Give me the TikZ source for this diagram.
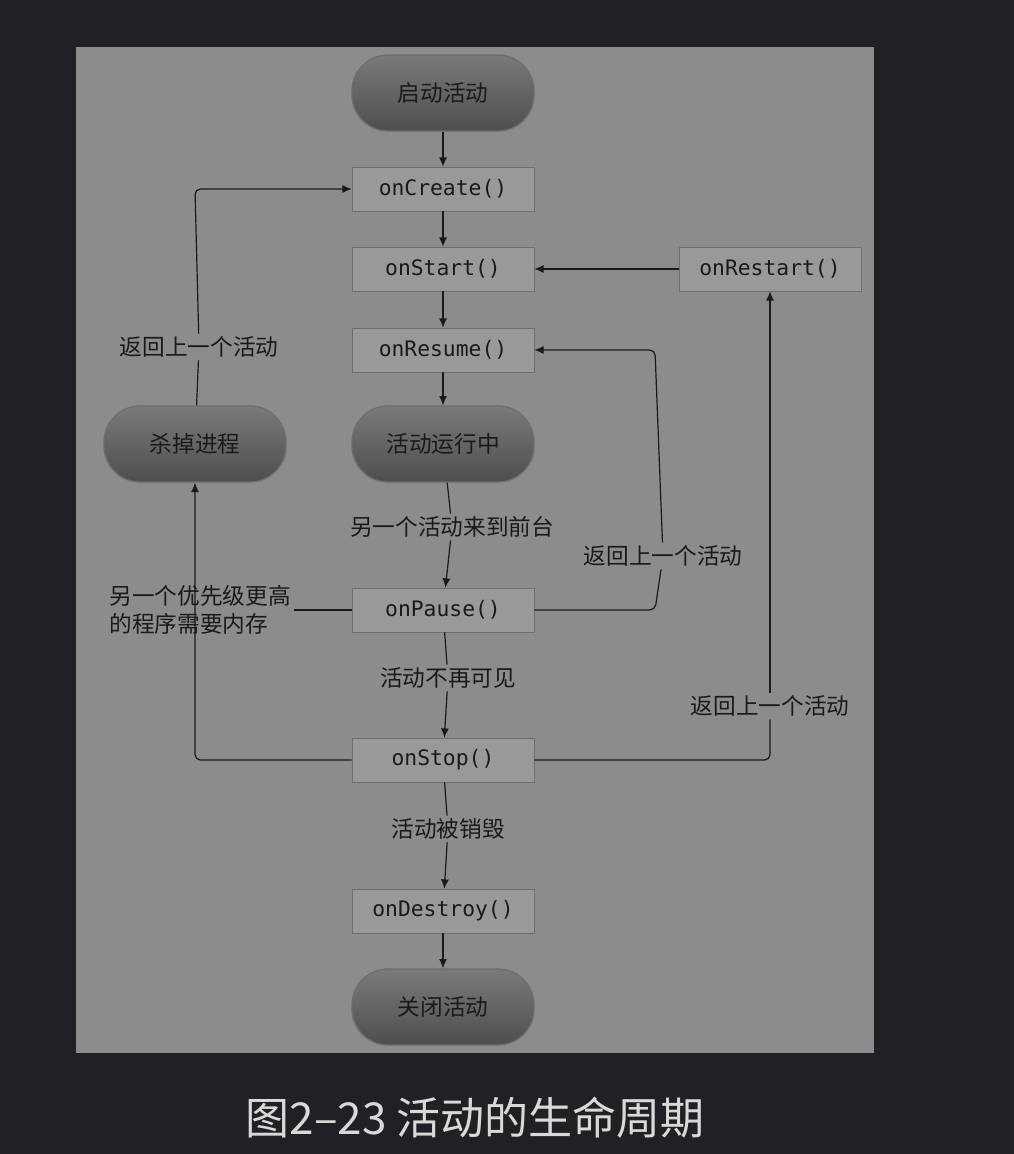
\documentclass[tikz,border=0pt]{standalone}
\usepackage{fontspec}
\setmainfont{Noto Sans CJK SC}
\newfontfamily\cjk{Noto Sans CJK SC}
\setmonofont{DejaVu Sans Mono}
\usetikzlibrary{arrows.meta}
\definecolor{bgdark}{HTML}{202124}
\definecolor{panel}{HTML}{8C8C8C}
\definecolor{boxfill}{HTML}{999999}
\definecolor{boxline}{HTML}{6E6E6E}
\definecolor{roundtop}{HTML}{7A7A7A}
\definecolor{roundbot}{HTML}{4E4E4E}
\definecolor{ink}{HTML}{1A1A1A}
\tikzset{
  px/.style={x=0.75pt,y=-0.75pt},
  meth/.style={draw=boxline,fill=boxfill,minimum width=136.5pt,minimum height=33pt,inner sep=0pt,font=\ttfamily\fontsize{16}{18}\selectfont,text=ink},
  state/.style={draw=boxline,line width=1pt,rounded corners=27pt,top color=roundtop,bottom color=roundbot,minimum width=136.5pt,minimum height=57pt,inner sep=0pt,font=\cjk\fontsize{17}{20}\selectfont,text=ink},
  lbl/.style={fill=panel,inner sep=2pt,font=\cjk\fontsize{17}{21}\selectfont,text=ink,align=center},
  conn/.style={draw=ink,line width=0.9pt},
  arr/.style={conn,-{Latex[length=7pt,width=6pt]}}
}
\begin{document}
\begin{tikzpicture}[px]
\fill[bgdark] (0,0) rectangle (1014,1154);
\useasboundingbox (0,0) rectangle (1014,1154);
\fill[panel] (76,47) rectangle (874,1053);
\node[state] (start) at (443,93) {启动活动};
\node[meth] (create) at (443,189) {onCreate()};
\node[meth] (startm) at (443,269) {onStart()};
\node[meth] (resume) at (443,350) {onResume()};
\node[state] (run) at (443,444) {活动运行中};
\node[meth] (pause) at (443,610) {onPause()};
\node[meth] (stop) at (443,760) {onStop()};
\node[meth] (destroy) at (443,911) {onDestroy()};
\node[state] (close) at (443,1007) {关闭活动};
\node[meth] (restart) at (770,269) {onRestart()};
\node[state] (kill) at (195,444) {杀掉进程};
\node[lbl] (l1) at (199,347) {返回上一个活动};
\node[lbl] (l2) at (452,527) {另一个活动来到前台};
\node[lbl] (l3) at (663,556) {返回上一个活动};
\node[lbl,align=left] (l4) at (200,610) {另一个优先级更高\\的程序需要内存};
\node[lbl] (l5) at (448,678) {活动不再可见};
\node[lbl] (l6) at (770,706) {返回上一个活动};
\node[lbl] (l7) at (448,829) {活动被销毁};
\coordinate (c1) at (655,610);
\coordinate (c2) at (655,350);
\coordinate (c3) at (770,760);
\coordinate (c4) at (195,760);
\coordinate (c5) at (195,189);
\draw[arr] (start) -- (create);
\draw[arr] (create) -- (startm);
\draw[arr] (startm) -- (resume);
\draw[arr] (resume) -- (run);
\draw[conn] (run) -- (l2);
\draw[arr] (l2) -- (pause);
\draw[conn] (pause) -- (l5);
\draw[arr] (l5) -- (stop);
\draw[conn] (stop) -- (l7);
\draw[arr] (l7) -- (destroy);
\draw[arr] (destroy) -- (close);
\draw[arr] (restart) -- (startm);
\draw[conn,rounded corners=4pt] (pause.east) -- (c1) -- (l3);
\draw[arr,rounded corners=4pt] (l3) -- (c2) -- (resume.east);
\draw[conn,rounded corners=4pt] (stop.east) -- (c3) -- (l6);
\draw[arr] (l6) -- (restart);
\draw[arr,rounded corners=4pt] (stop.west) -- (c4) -- (kill);
\draw[conn] (pause.west) -- (l4);
\draw[conn] (kill) -- (l1);
\draw[arr,rounded corners=4pt] (l1) -- (c5) -- (create.west);
\node[font=\cjk\fontsize{33}{36}\selectfont,text=white!85!black] (cap) at (475,1118) {图2–23 活动的生命周期};
\end{tikzpicture}
\end{document}
